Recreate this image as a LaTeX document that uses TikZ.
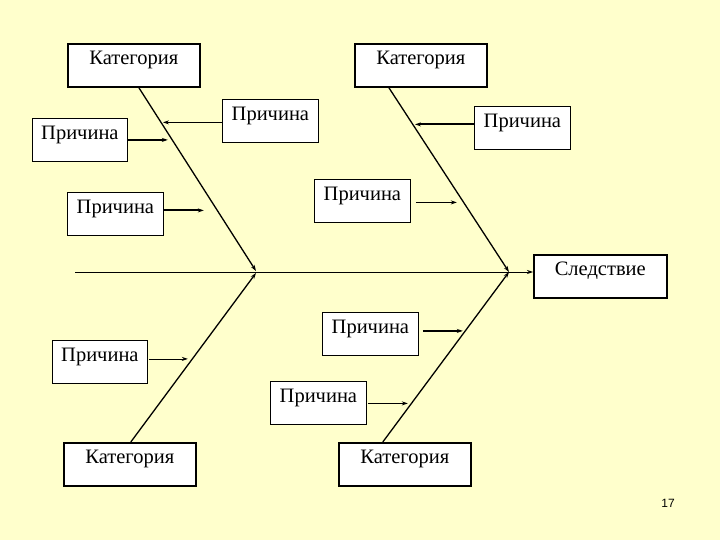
\documentclass[tikz,border=0pt]{standalone}
\usepackage{fontspec}
\setmainfont{Liberation Serif}
\newfontfamily\numfont{Liberation Sans}
\usetikzlibrary{arrows.meta,calc}
\definecolor{bgyellow}{HTML}{FFFFCC}
\begin{document}
\begin{tikzpicture}[x=1pt,y=-1pt,
  tip/.style={-{Stealth[length=6pt,width=4pt]}},
  box/.style={draw,fill=white,rectangle,anchor=north west,inner xsep=0pt,inner ysep=0pt,
     text height=21pt,text depth=22pt,font=\fontsize{20.5}{22}\selectfont},
  catbox/.style={box,line width=1.6pt,minimum width=132pt},
  causebox/.style={box,line width=0.8pt,minimum width=96pt},
  effbox/.style={box,line width=1.6pt,minimum width=133pt},
  bone/.style={tip,line width=1.3pt},
  thickc/.style={tip,line width=1.8pt},
  thinc/.style={tip,line width=0.8pt}]
\fill[bgyellow] (0,0) rectangle (720,540);
\useasboundingbox (0,0) rectangle (720,540);
% boxes
\node[catbox] (catTL) at (67,43) {Категория};
\node[catbox] (catTR) at (354,43) {Категория};
\node[catbox] (catBL) at (63,442) {Категория};
\node[catbox] (catBR) at (338,442) {Категория};
\node[effbox] (eff) at (533,254) {Следствие};
\node[causebox,minimum width=95pt] (p1) at (32,118) {Причина};
\node[causebox] (p2) at (222,99) {Причина};
\node[causebox] (p3) at (67,192) {Причина};
\node[causebox] (p4) at (474,106) {Причина};
\node[causebox] (p5) at (314,179) {Причина};
\node[causebox] (p6) at (322,312) {Причина};
\node[causebox,minimum width=95pt] (p7) at (52,340) {Причина};
\node[causebox] (p8) at (270,381) {Причина};
\node[font=\numfont\fontsize{12}{14}\selectfont] (num) at (668,503) {17};
% spine
\coordinate (tail) at (75,272);
\coordinate (j1) at (256,271);
\coordinate (j1b) at (256,273);
\coordinate (j2) at (509,272);
\draw[tip,line width=0.8pt] (tail) -- (eff.west |- tail);
% bones
\draw[bone] ([xshift=5pt]catTL.south) -- (j1);
\draw[bone] ([xshift=1pt]catBL.north) -- (j1b);
\draw[bone] ([xshift=-32pt]catTR.south) -- (j2);
\draw[bone] ([xshift=-22pt]catBR.north) -- (j2);
% causes
\draw[thickc] (p1.east) -- ++(40,0);
\draw[thinc] ($(p2.west)+(0,1.5)$) -- ++(-59,0);
\draw[thickc] ($(p3.east)+(0,-3.5)$) -- ++(40,0);
\draw[thickc] ($(p4.west)+(0,-3.5)$) -- ++(-59,0);
\draw[thinc] ($(p5.east)+(5,1.5)$) -- ++(41,0);
\draw[thickc] ($(p6.east)+(4,-3)$) -- ++(40,0);
\draw[thinc] ($(p7.east)+(1,-3)$) -- ++(39,0);
\draw[thickc] ($(p8.east)+(1,0.5)$) -- ++(40,0);
\end{tikzpicture}
\end{document}
